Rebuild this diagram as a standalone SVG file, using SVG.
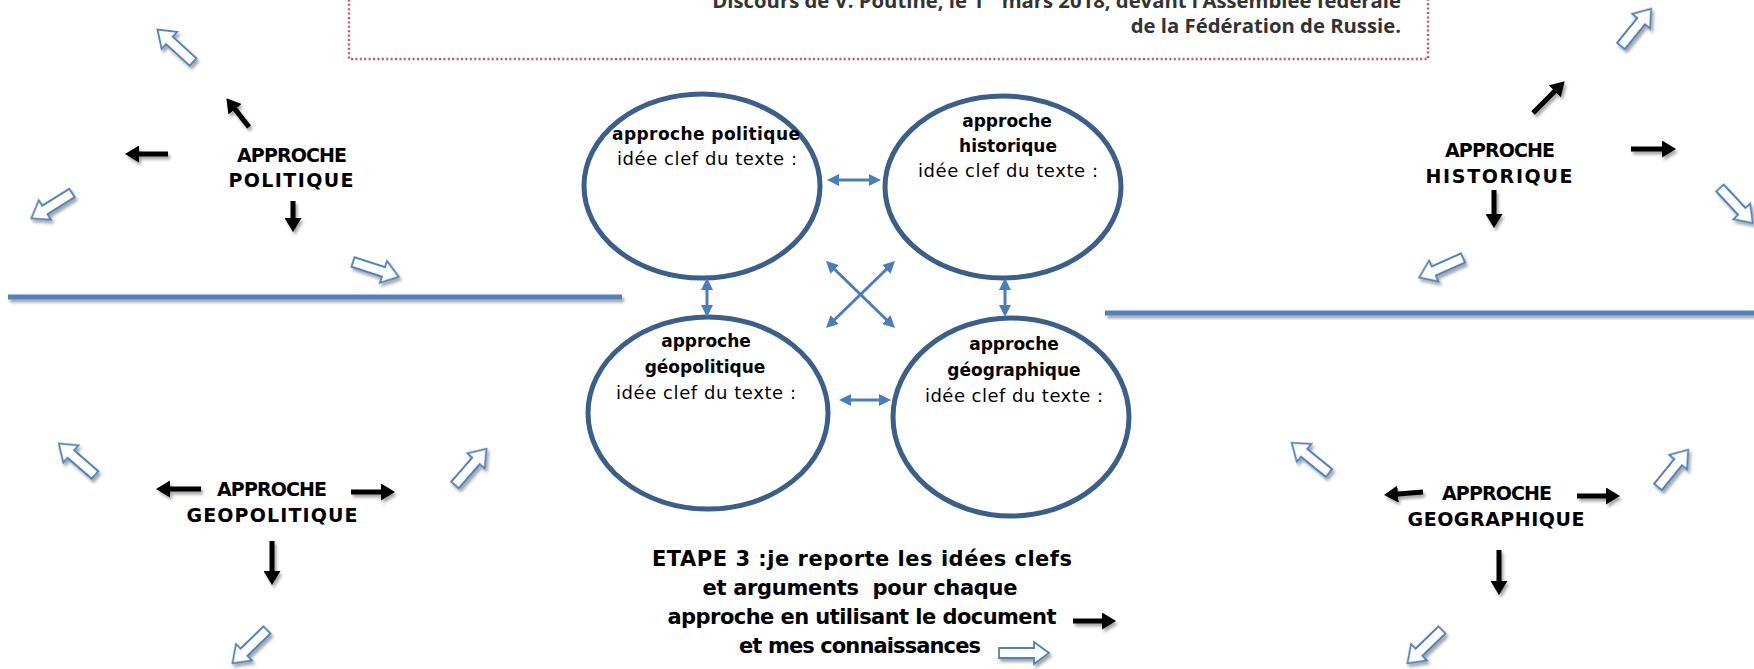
<svg xmlns="http://www.w3.org/2000/svg" width="1754" height="669" viewBox="0 0 1754 669">
<style>
.cs{font-family:"DejaVu Sans",sans-serif;fill:#000}
.lbl{font-size:19px;font-weight:bold;text-anchor:middle}
.et{font-size:18px;text-anchor:middle}
.eb{font-size:17px;font-weight:bold;text-anchor:middle}
.step{font-size:21px;font-weight:bold;text-anchor:middle}
.src{font-family:"Open Sans",sans-serif;font-weight:bold;font-size:20.3px;fill:#333;text-anchor:end}
.ell{fill:#fff;stroke:#3a5f8b;stroke-width:5}
.blk{stroke:#000;stroke-width:5;fill:none;marker-end:url(#bh)}
.dbl{stroke:#4a7ebb;stroke-width:3;fill:none;marker-start:url(#dh);marker-end:url(#dh)}
.hol{fill:#fff;stroke:#4f81bd;stroke-width:1.8}
.sep{stroke:#4f81bd;stroke-width:5}
</style>
<defs>
<filter id="sh" x="-40%" y="-40%" width="180%" height="180%">
<feDropShadow dx="2" dy="3" stdDeviation="1.6" flood-color="#000" flood-opacity="0.35"/>
</filter>
<marker id="bh" markerUnits="userSpaceOnUse" markerWidth="15" markerHeight="17" viewBox="0 0 15 17" refX="3" refY="8.5" orient="auto">
<path d="M0,0 L14,8.5 L0,17 Z" fill="#000"/>
</marker>
<marker id="dh" markerUnits="userSpaceOnUse" markerWidth="12" markerHeight="12" viewBox="0 0 12 12" refX="2" refY="6" orient="auto-start-reverse">
<path d="M0,0 L12,6 L0,12 Z" fill="#4a7ebb"/>
</marker>
<path id="ba" class="hol" d="M0,-5 H32 V-11.5 L48,0 L32,11.5 V5 H0 Z"/>
</defs>
<rect width="1754" height="669" fill="#fff"/>

<g id="source-box">
<path d="M349,-5 V59 H1428 V-5" fill="none" stroke="#d0506a" stroke-width="2.4" stroke-dasharray="2 2.4"/>
<text class="src" x="1401" y="8">Discours de V. Poutine, le 1<tspan font-size="12px" dy="-8">er</tspan><tspan dy="8"> mars 2018, devant l’Assemblée fédérale</tspan></text>
<text class="src" x="1401" y="33">de la Fédération de Russie.</text>
</g>

<g id="separators" filter="url(#sh)">
<line class="sep" x1="8" y1="297" x2="622" y2="297"/>
<line class="sep" x1="1105" y1="313" x2="1760" y2="313"/>
</g>

<g id="approche-politique-label">
<text class="cs lbl" x="292" y="162" textLength="110">APPROCHE</text>
<text class="cs lbl" x="291" y="187" textLength="125">POLITIQUE</text>
<g filter="url(#sh)">
<line class="blk" x1="249" y1="127" x2="233.2" y2="106.9"/>
<line class="blk" x1="168" y1="154" x2="136" y2="154"/>
<line class="blk" x1="293" y1="201" x2="293" y2="221"/>
<use href="#ba" transform="translate(193,62) rotate(-137.6)"/>
<use href="#ba" transform="translate(72,193) rotate(148)"/>
<use href="#ba" transform="translate(353,262) rotate(18)"/>
</g>
</g>

<g id="approche-historique-label">
<text class="cs lbl" x="1500" y="157" textLength="110">APPROCHE</text>
<text class="cs lbl" x="1499" y="183" textLength="147">HISTORIQUE</text>
<g filter="url(#sh)">
<line class="blk" x1="1533" y1="113" x2="1556.9" y2="89.1"/>
<line class="blk" x1="1631" y1="149" x2="1665" y2="149"/>
<line class="blk" x1="1494" y1="190" x2="1494" y2="217"/>
<use href="#ba" transform="translate(1621,46) rotate(-51)"/>
<use href="#ba" transform="translate(1720,188) rotate(47)"/>
<use href="#ba" transform="translate(1463,258) rotate(156)"/>
</g>
</g>

<g id="approche-geopolitique-label">
<text class="cs lbl" x="272" y="496" textLength="110">APPROCHE</text>
<text class="cs lbl" x="272" y="522" textLength="171">GEOPOLITIQUE</text>
<g filter="url(#sh)">
<line class="blk" x1="201" y1="489" x2="167" y2="489"/>
<line class="blk" x1="351" y1="492" x2="384" y2="492"/>
<line class="blk" x1="272" y1="541" x2="272" y2="574"/>
<use href="#ba" transform="translate(95,475) rotate(-139)"/>
<use href="#ba" transform="translate(455,485) rotate(-49)"/>
<use href="#ba" transform="translate(267,630) rotate(136)"/>
</g>
</g>

<g id="approche-geographique-label">
<text class="cs lbl" x="1497" y="500" textLength="110">APPROCHE</text>
<text class="cs lbl" x="1496" y="526" textLength="177">GEOGRAPHIQUE</text>
<g filter="url(#sh)">
<line class="blk" x1="1423" y1="492" x2="1395" y2="494.2"/>
<line class="blk" x1="1577" y1="496" x2="1609" y2="496"/>
<line class="blk" x1="1499" y1="550" x2="1499" y2="584"/>
<use href="#ba" transform="translate(1329,473) rotate(-141)"/>
<use href="#ba" transform="translate(1658,487) rotate(-51)"/>
<use href="#ba" transform="translate(1442,630) rotate(136)"/>
</g>
</g>

<g id="ellipse-politique">
<ellipse class="ell" cx="702" cy="186" rx="118" ry="92"/>
<text class="cs eb" x="706" y="140" textLength="188">approche politique</text>
<text class="cs et" x="707" y="165" textLength="180">idée clef du texte :</text>
</g>

<g id="ellipse-historique">
<ellipse class="ell" cx="1003" cy="187" rx="118" ry="91"/>
<text class="cs eb" x="1007" y="127">approche</text>
<text class="cs eb" x="1008" y="152">historique</text>
<text class="cs et" x="1008" y="177" textLength="180">idée clef du texte :</text>
</g>

<g id="ellipse-geopolitique">
<ellipse class="ell" cx="708" cy="413" rx="120" ry="96"/>
<text class="cs eb" x="706" y="347">approche</text>
<text class="cs eb" x="705" y="373">géopolitique</text>
<text class="cs et" x="706" y="399" textLength="180">idée clef du texte :</text>
</g>

<g id="ellipse-geographique">
<ellipse class="ell" cx="1011" cy="417" rx="118" ry="99"/>
<text class="cs eb" x="1014" y="350">approche</text>
<text class="cs eb" x="1014" y="376">géographique</text>
<text class="cs et" x="1014" y="402" textLength="178">idée clef du texte :</text>
</g>

<g id="connectors">
<line class="dbl" x1="837" y1="180" x2="871" y2="180"/>
<line class="dbl" x1="849" y1="400" x2="881" y2="400"/>
<line class="dbl" x1="707" y1="288" x2="707" y2="307"/>
<line class="dbl" x1="1005" y1="288" x2="1005" y2="307"/>
<line class="dbl" x1="833.2" y1="268" x2="887.8" y2="321"/>
<line class="dbl" x1="887.8" y1="268" x2="833.2" y2="321"/>
</g>

<g id="etape-3">
<text class="cs step" xml:space="preserve" x="862" y="566" textLength="420">ETAPE 3 :je reporte les idées clefs</text>
<text class="cs step" xml:space="preserve" x="860" y="595" textLength="315">et arguments  pour chaque</text>
<text class="cs step" xml:space="preserve" x="862" y="624" textLength="389">approche en utilisant le document</text>
<text class="cs step" xml:space="preserve" x="860" y="653" textLength="242">et mes connaissances</text>
<g filter="url(#sh)">
<line class="blk" x1="1073" y1="621" x2="1105" y2="621"/>
<path class="hol" d="M999,648 H1034 V642 L1049,653 L1034,664 V658 H999 Z"/>
</g>
</g>
</svg>
